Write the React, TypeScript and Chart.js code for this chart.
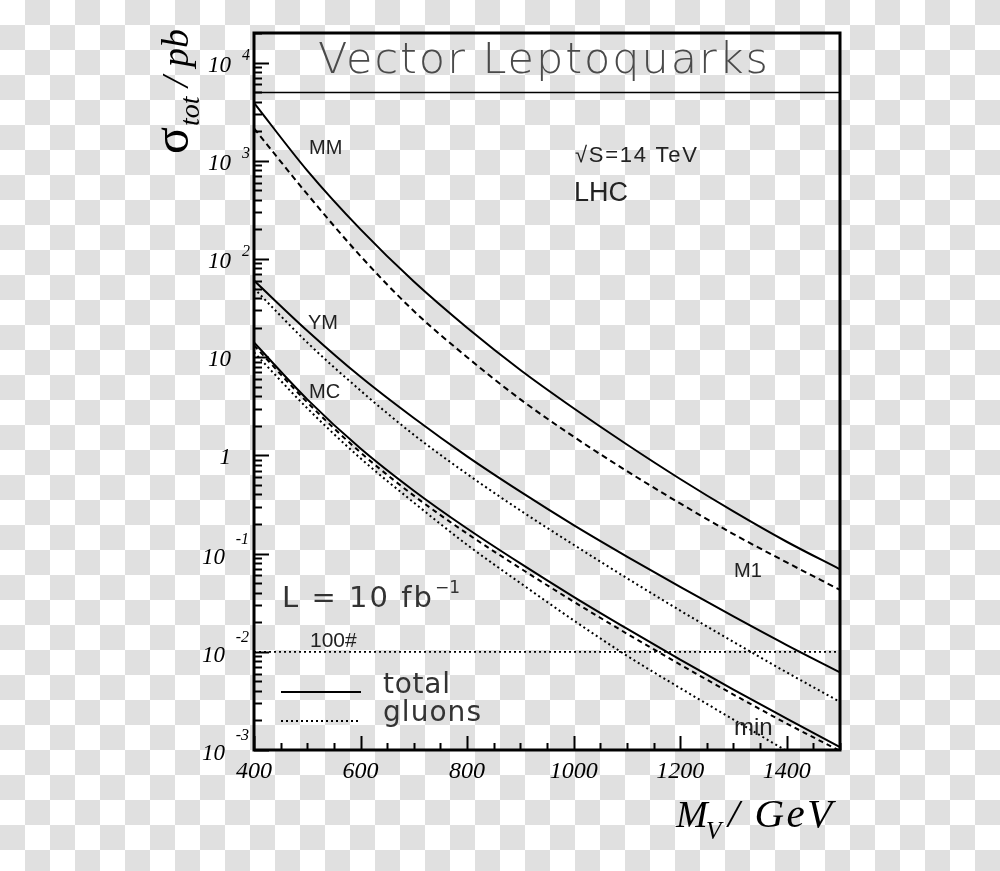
import React, { useEffect, useRef } from "react";
import { Chart, registerables } from "chart.js";

Chart.register(...registerables);

// ---- data (cross sections in pb) ----
const masses = [400, 500, 600, 700, 800, 900, 1000, 1100, 1200, 1300, 1400, 1500];
const mmTotal = [3890, 794, 200, 58.9, 19.95, 7.41, 3.02, 1.29, 0.575, 0.269, 0.132, 0.0692];
const m1Total = [2140, 457, 107, 29.5, 10.0, 3.72, 1.55, 0.692, 0.324, 0.158, 0.0813, 0.0427];
const ymTotal = [60.3, 18.6, 6.31, 2.4, 0.977, 0.427, 0.195, 0.0933, 0.0457, 0.0229, 0.0117, 0.00617];
const ymGluons = [50.1, 14.1, 4.57, 1.62, 0.646, 0.275, 0.123, 0.0562, 0.0263, 0.0126, 0.00617, 0.00309];
const mcTotal = [14.1, 3.72, 1.175, 0.437, 0.18, 0.0794, 0.0363, 0.0172, 0.00832, 0.00412, 0.00209, 0.00107];
const minTotal = [13.2, 3.47, 1.07, 0.389, 0.16, 0.0708, 0.0324, 0.0153, 0.00741, 0.00367, 0.00186, 0.000977];
const mcGluons = [11.2, 3.02, 0.933, 0.331, 0.123, 0.0501, 0.0209, 0.00912, 0.00427, 0.00204, 0.000977, 0.000479];
const limitMasses = [400, 1500];
const limitValues = [0.01, 0.01];

const xMin = 400;
const xMax = 1500;
const yMin = 0.001;
const yMax = 20000;
const xMajorTicks = [400, 600, 800, 1000, 1200, 1400];
const xMinorStep = 50;
const yDecades = [-3, -2, -1, 0, 1, 2, 3, 4];

const pts = (xs: number[], ys: number[]) => xs.map((x, i) => ({ x, y: ys[i] }));

const SERIF = "'Liberation Serif', 'DejaVu Serif', serif";
const SANS = "'Liberation Sans', Arial, sans-serif";
const GEO = "'DejaVu Sans', sans-serif";

function fitText(ctx: CanvasRenderingContext2D, text: string, x: number, y: number, width: number) {
  const w = ctx.measureText(text).width;
  const sp = (width - w) / Math.max(1, text.length - 1);
  (ctx as any).letterSpacing = `${sp}px`;
  ctx.fillText(text, x, y);
  (ctx as any).letterSpacing = "0px";
}

const overlayPlugin = {
  id: "overlay",
  afterDraw(chart: any) {
    const ctx: CanvasRenderingContext2D = chart.ctx;
    const { left, right, top, bottom } = chart.chartArea;
    const xs = chart.scales.x;
    const ys = chart.scales.y;
    ctx.save();
    ctx.strokeStyle = "#000";
    ctx.fillStyle = "#000";
    ctx.setLineDash([]);

    // title separator
    ctx.lineWidth = 1.6;
    ctx.beginPath();
    ctx.moveTo(left, 92.5);
    ctx.lineTo(right, 92.5);
    ctx.stroke();

    // ticks on left axis
    ctx.lineWidth = 2;
    for (const d of yDecades) {
      for (let k = 1; k <= 9; k++) {
        const v = k * Math.pow(10, d);
        if (v < yMin || v > yMax) continue;
        const y = Math.round(ys.getPixelForValue(v)) + 0.5;
        const len = k === 1 ? 15 : 8;
        ctx.beginPath();
        ctx.moveTo(left, y);
        ctx.lineTo(left + len, y);
        ctx.stroke();
      }
    }
    // ticks on bottom axis
    for (let m = xMin; m <= xMax; m += xMinorStep) {
      const x = Math.round(xs.getPixelForValue(m)) + 0.5;
      const len = xMajorTicks.includes(m) ? 14 : 7;
      ctx.beginPath();
      ctx.moveTo(x, bottom);
      ctx.lineTo(x, bottom - len);
      ctx.stroke();
    }

    // frame
    ctx.lineWidth = 3;
    ctx.strokeRect(left, top, right - left, bottom - top);

    // x tick labels
    ctx.font = `italic 24px ${SERIF}`;
    ctx.textAlign = "center";
    ctx.textBaseline = "alphabetic";
    for (const m of xMajorTicks) {
      ctx.fillText(String(m), xs.getPixelForValue(m), 778);
    }

    // y tick labels
    for (const d of yDecades) {
      const y = ys.getPixelForValue(Math.pow(10, d));
      ctx.textAlign = "right";
      if (d === 0) {
        ctx.font = `italic 23px ${SERIF}`;
        ctx.fillText("1", 231, y + 9);
      } else if (d === 1) {
        ctx.font = `italic 23px ${SERIF}`;
        ctx.fillText("10", 231, y + 9);
      } else if (d > 1) {
        ctx.font = `italic 16px ${SERIF}`;
        ctx.fillText(String(d), 250, y - 3);
        ctx.font = `italic 23px ${SERIF}`;
        ctx.fillText("10", 231, y + 9);
      } else {
        ctx.font = `italic 16px ${SERIF}`;
        ctx.fillText("-" + String(-d), 249, y - 10);
        ctx.font = `italic 23px ${SERIF}`;
        ctx.fillText("10", 225, y + 10);
      }
    }

    // y axis title (rotated)
    ctx.save();
    ctx.translate(188, 154);
    ctx.rotate(-Math.PI / 2);
    ctx.textAlign = "left";
    ctx.font = `50px ${SERIF}`;
    ctx.fillText("σ", 0, 0);
    let w = ctx.measureText("σ").width;
    ctx.font = `italic 28px ${SERIF}`;
    ctx.fillText("tot", w + 1, 11);
    w += 1 + ctx.measureText("tot").width;
    ctx.font = `italic 38px ${SERIF}`;
    ctx.fillText(" / pb", w, 0);
    ctx.restore();

    // x axis title
    ctx.textAlign = "left";
    ctx.font = `italic 38px ${SERIF}`;
    ctx.fillText("M", 676, 827);
    ctx.font = `italic 25px ${SERIF}`;
    ctx.fillText("V", 706, 839);
    ctx.font = `italic 41px ${SERIF}`;
    fitText(ctx, "/ GeV", 728, 827, 104);

    // title
    ctx.fillStyle = "#4a4a4a";
    ctx.font = `200 43px ${GEO}`;
    fitText(ctx, "Vector Leptoquarks", 318, 73, 450);

    // annotations (Helvetica-like)
    ctx.fillStyle = "#222";
    ctx.font = `20px ${SANS}`;
    ctx.fillText("MM", 309, 154);
    ctx.fillText("YM", 308, 329);
    ctx.fillText("MC", 309, 398);
    ctx.fillText("M1", 734, 577);
    ctx.font = `22px ${SANS}`;
    fitText(ctx, "√S=14 TeV", 575, 162, 122);
    ctx.font = `24px ${SANS}`;
    ctx.fillText("min", 734, 735);
    ctx.font = `27px ${SANS}`;
    ctx.fillText("LHC", 574, 201);
    ctx.font = `21px ${SANS}`;
    ctx.fillText("100#", 310, 647);

    // luminosity
    ctx.fillStyle = "#333";
    ctx.font = `29px ${GEO}`;
    fitText(ctx, "L = 10 fb", 282, 607, 150);
    ctx.font = `17px ${GEO}`;
    ctx.fillText("−1", 435, 593);

    // legend
    ctx.strokeStyle = "#000";
    ctx.lineWidth = 2;
    ctx.beginPath();
    ctx.moveTo(281, 692);
    ctx.lineTo(361, 692);
    ctx.stroke();
    ctx.setLineDash([2, 3]);
    ctx.beginPath();
    ctx.moveTo(281, 721);
    ctx.lineTo(361, 721);
    ctx.stroke();
    ctx.setLineDash([]);
    ctx.fillStyle = "#333";
    ctx.font = `28px ${GEO}`;
    fitText(ctx, "total", 383, 693, 67);
    fitText(ctx, "gluons", 383, 721, 98);

    ctx.restore();
  },
};

export default function App() {
  const canvasRef = useRef<HTMLCanvasElement | null>(null);

  useEffect(() => {
    if (!canvasRef.current) return;
    const base = {
      borderColor: "#000",
      borderWidth: 2,
      pointRadius: 0,
      fill: false,
      cubicInterpolationMode: "monotone" as const,
    };
    const chart = new Chart(canvasRef.current, {
      type: "line",
      data: {
        datasets: [
          { ...base, label: "MM total", data: pts(masses, mmTotal) },
          { ...base, label: "M1 total", data: pts(masses, m1Total), borderDash: [6, 4] },
          { ...base, label: "YM total", data: pts(masses, ymTotal) },
          { ...base, label: "YM gluons", data: pts(masses, ymGluons), borderDash: [2, 3] },
          { ...base, label: "MC total", data: pts(masses, mcTotal) },
          { ...base, label: "min total", data: pts(masses, minTotal), borderDash: [5, 4] },
          { ...base, label: "MC gluons", data: pts(masses, mcGluons), borderDash: [2, 3] },
          { ...base, label: "100 events", data: pts(limitMasses, limitValues), borderDash: [2, 3], borderWidth: 1.8 },
        ],
      },
      options: {
        animation: false,
        responsive: false,
        maintainAspectRatio: false,
        devicePixelRatio: 1,
        layout: { padding: { left: 254, right: 160, top: 33, bottom: 121 } },
        plugins: {
          legend: { display: false },
          tooltip: { enabled: false },
          title: { display: false },
        },
        scales: {
          x: { type: "linear", min: xMin, max: xMax, display: false },
          y: { type: "logarithmic", min: yMin, max: yMax, display: false },
        },
      },
      plugins: [overlayPlugin],
    });
    return () => chart.destroy();
  }, []);

  return (
    <div
      style={{
        position: "fixed",
        left: 0,
        top: 0,
        width: 1000,
        height: 871,
        background: "repeating-conic-gradient(#e0e0e0 0% 25%, #ffffff 0% 50%) 0 0 / 50px 50px",
      }}
    >
      <canvas ref={canvasRef} width={1000} height={871} style={{ display: "block", width: 1000, height: 871 }} />
    </div>
  );
}
